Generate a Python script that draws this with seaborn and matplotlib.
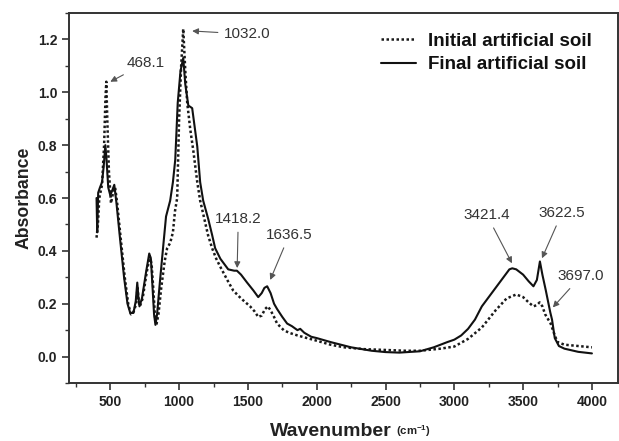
import numpy as np
import pandas as pd
import matplotlib
matplotlib.use('Agg')
import matplotlib.pyplot as plt
from matplotlib.ticker import MultipleLocator
import seaborn as sns

# espectros FTIR
wn_final = [400, 405, 412, 425, 440, 452, 464, 472, 485, 500, 515, 529, 545, 570, 600,
            625, 645, 668, 685, 696, 705, 712, 730, 760, 783, 795, 805, 818, 828, 840,
            860, 885, 905, 915, 935, 955, 972, 990, 1010, 1030, 1045, 1067, 1095, 1132,
            1153, 1175, 1212, 1240, 1262, 1300, 1357, 1400, 1420, 1450, 1494, 1540, 1575,
            1600, 1620, 1640, 1665, 1690, 1712, 1750, 1785, 1820, 1860, 1880, 1910, 1960,
            2000, 2100, 2250, 2400, 2500, 2600, 2750, 2850, 2900, 2950, 3000, 3050, 3100,
            3150, 3200, 3250, 3300, 3350, 3400, 3421, 3450, 3500, 3540, 3575, 3600, 3622,
            3640, 3665, 3697, 3710, 3730, 3760, 3800, 3900, 4000]
abs_final = [0.60, 0.47, 0.62, 0.64, 0.66, 0.72, 0.80, 0.75, 0.64, 0.61, 0.63, 0.65, 0.58, 0.45, 0.30,
             0.20, 0.165, 0.165, 0.21, 0.28, 0.22, 0.19, 0.22, 0.32, 0.39, 0.37, 0.28, 0.16, 0.12, 0.16,
             0.28, 0.42, 0.53, 0.55, 0.59, 0.66, 0.745, 0.96, 1.08, 1.13, 1.03, 0.95, 0.94, 0.795,
             0.66, 0.59, 0.52, 0.46, 0.41, 0.37, 0.33, 0.325, 0.325, 0.31, 0.28, 0.25, 0.225,
             0.24, 0.26, 0.266, 0.24, 0.20, 0.18, 0.15, 0.125, 0.115, 0.10, 0.105, 0.09, 0.075,
             0.07, 0.055, 0.035, 0.022, 0.017, 0.015, 0.02, 0.035, 0.045, 0.055, 0.064, 0.08, 0.105,
             0.14, 0.19, 0.225, 0.26, 0.295, 0.33, 0.334, 0.33, 0.31, 0.285, 0.266, 0.29, 0.36,
             0.31, 0.25, 0.168, 0.14, 0.07, 0.04, 0.03, 0.018, 0.012]

wn_init = [400, 410, 420, 440, 455, 465, 471, 478, 490, 505, 520, 535, 550, 575, 605,
           630, 650, 670, 688, 698, 707, 715, 735, 765, 787, 800, 812, 825, 835, 850,
           870, 895, 913, 935, 955, 970, 986, 1000, 1015, 1030, 1045, 1059, 1081, 1103,
           1132, 1153, 1175, 1210, 1240, 1270, 1299, 1350, 1393, 1450, 1516, 1550, 1575,
           1600, 1625, 1645, 1665, 1690, 1712, 1760, 1800, 1860, 1930, 2000, 2100, 2200,
           2350, 2500, 2650, 2750, 2900, 3000, 3100, 3200, 3300, 3380, 3450, 3500, 3540,
           3575, 3600, 3620, 3640, 3660, 3700, 3730, 3750, 3800, 3900, 4000]
abs_init = [0.45, 0.50, 0.60, 0.65, 0.80, 0.98, 1.04, 0.90, 0.70, 0.58, 0.62, 0.64, 0.58, 0.45, 0.30,
            0.20, 0.16, 0.17, 0.20, 0.26, 0.21, 0.19, 0.22, 0.32, 0.38, 0.35, 0.26, 0.15, 0.12, 0.16,
            0.26, 0.36, 0.41, 0.43, 0.47, 0.55, 0.60, 0.90, 1.10, 1.24, 1.08, 0.96, 0.86, 0.78,
            0.66, 0.59, 0.54, 0.46, 0.41, 0.37, 0.34, 0.29, 0.25, 0.22, 0.19, 0.17, 0.15,
            0.155, 0.18, 0.19, 0.175, 0.15, 0.125, 0.10, 0.09, 0.08, 0.07, 0.06, 0.045, 0.035,
            0.028, 0.025, 0.022, 0.022, 0.03, 0.038, 0.067, 0.11, 0.175, 0.22, 0.235, 0.225, 0.205,
            0.19, 0.195, 0.205, 0.19, 0.16, 0.125, 0.08, 0.055, 0.045, 0.04, 0.035]

# picos marcados
peak_labels = ['468.1', '1032.0', '1418.2', '1636.5', '3421.4', '3622.5', '3697.0']
peak_tips = [(500, 1.04), (1095, 1.232), (1422, 0.335), (1662, 0.29), (3419, 0.353), (3637, 0.372), (3716, 0.186)]
label_pos = [(754, 1.11), (1495, 1.22), (1430, 0.52), (1800, 0.46), (3237, 0.535), (3782, 0.543), (3920, 0.304)]

df_final = pd.DataFrame({'wn': wn_final, 'abs': abs_final})
df_init = pd.DataFrame({'wn': wn_init, 'abs': abs_init})

sns.set_style('ticks')
plt.rcParams['font.family'] = ['Liberation Sans', 'DejaVu Sans']
plt.rcParams['mathtext.fontset'] = 'custom'
plt.rcParams['mathtext.bf'] = 'Liberation Sans:bold'
plt.rcParams['mathtext.rm'] = 'Liberation Sans'

fig = plt.figure(figsize=(6.19, 4.41), dpi=100)
ax = fig.add_axes([0.1115, 0.1315, 0.887, 0.839])

sns.lineplot(data=df_init, x='wn', y='abs', ax=ax, color='#1a1a1a', lw=1.8,
             linestyle=(0, (1, 1)), label='Initial artificial soil', sort=False, estimator=None)
sns.lineplot(data=df_final, x='wn', y='abs', ax=ax, color='#111111', lw=1.5,
             label='Final artificial soil', sort=False, estimator=None)

for lab, tip, pos in zip(peak_labels, peak_tips, label_pos):
    ax.annotate(lab, xy=tip, xytext=pos, ha='center', va='center', fontsize=11, color='#333333',
                arrowprops=dict(arrowstyle='-|>', color='#555555', lw=0.8, mutation_scale=9,
                                shrinkA=2, shrinkB=0))

ax.set_xlim(200, 4190)
ax.set_ylim(-0.1, 1.3)
ax.xaxis.set_major_locator(MultipleLocator(500))
ax.xaxis.set_minor_locator(MultipleLocator(250))
ax.yaxis.set_major_locator(MultipleLocator(0.2))
ax.yaxis.set_minor_locator(MultipleLocator(0.1))
ax.yaxis.set_major_formatter(plt.FuncFormatter(lambda v, p: f'{v:.1f}'))
ax.tick_params(which='major', direction='out', length=5, width=1.2, color='#333333',
               labelsize=10, labelcolor='#222222')
ax.tick_params(which='minor', direction='out', length=3, width=1.0, color='#333333')
for lbl in ax.get_xticklabels() + ax.get_yticklabels():
    lbl.set_fontweight('bold')
for sp in ax.spines.values():
    sp.set_linewidth(1.4)
    sp.set_color('#333333')

ax.set_ylabel('Absorbance', fontsize=12.7, fontweight='bold', color='#222222', labelpad=4)
ax.set_xlabel('Wavenumber', fontsize=14, fontweight='bold', color='#222222')
ax.xaxis.set_label_coords(0.477, -0.108)
ax.xaxis.label.set_va('top')
ax.annotate(r'(cm$^{\mathbf{-1}}$)', xy=(1, 0), xycoords=ax.xaxis.label, xytext=(3, 1),
            textcoords='offset points', ha='left', va='bottom', fontsize=8.2,
            fontweight='bold', color='#222222')

leg = ax.legend(loc='upper right', bbox_to_anchor=(0.953, 0.947), frameon=False,
                borderaxespad=0, borderpad=0,
                handlelength=1.87, handletextpad=0.64, labelspacing=0.35,
                prop={'weight': 'bold', 'size': 13.5})
for t in leg.get_texts():
    t.set_color('#111111')

fig.savefig('out.png', dpi=100)
